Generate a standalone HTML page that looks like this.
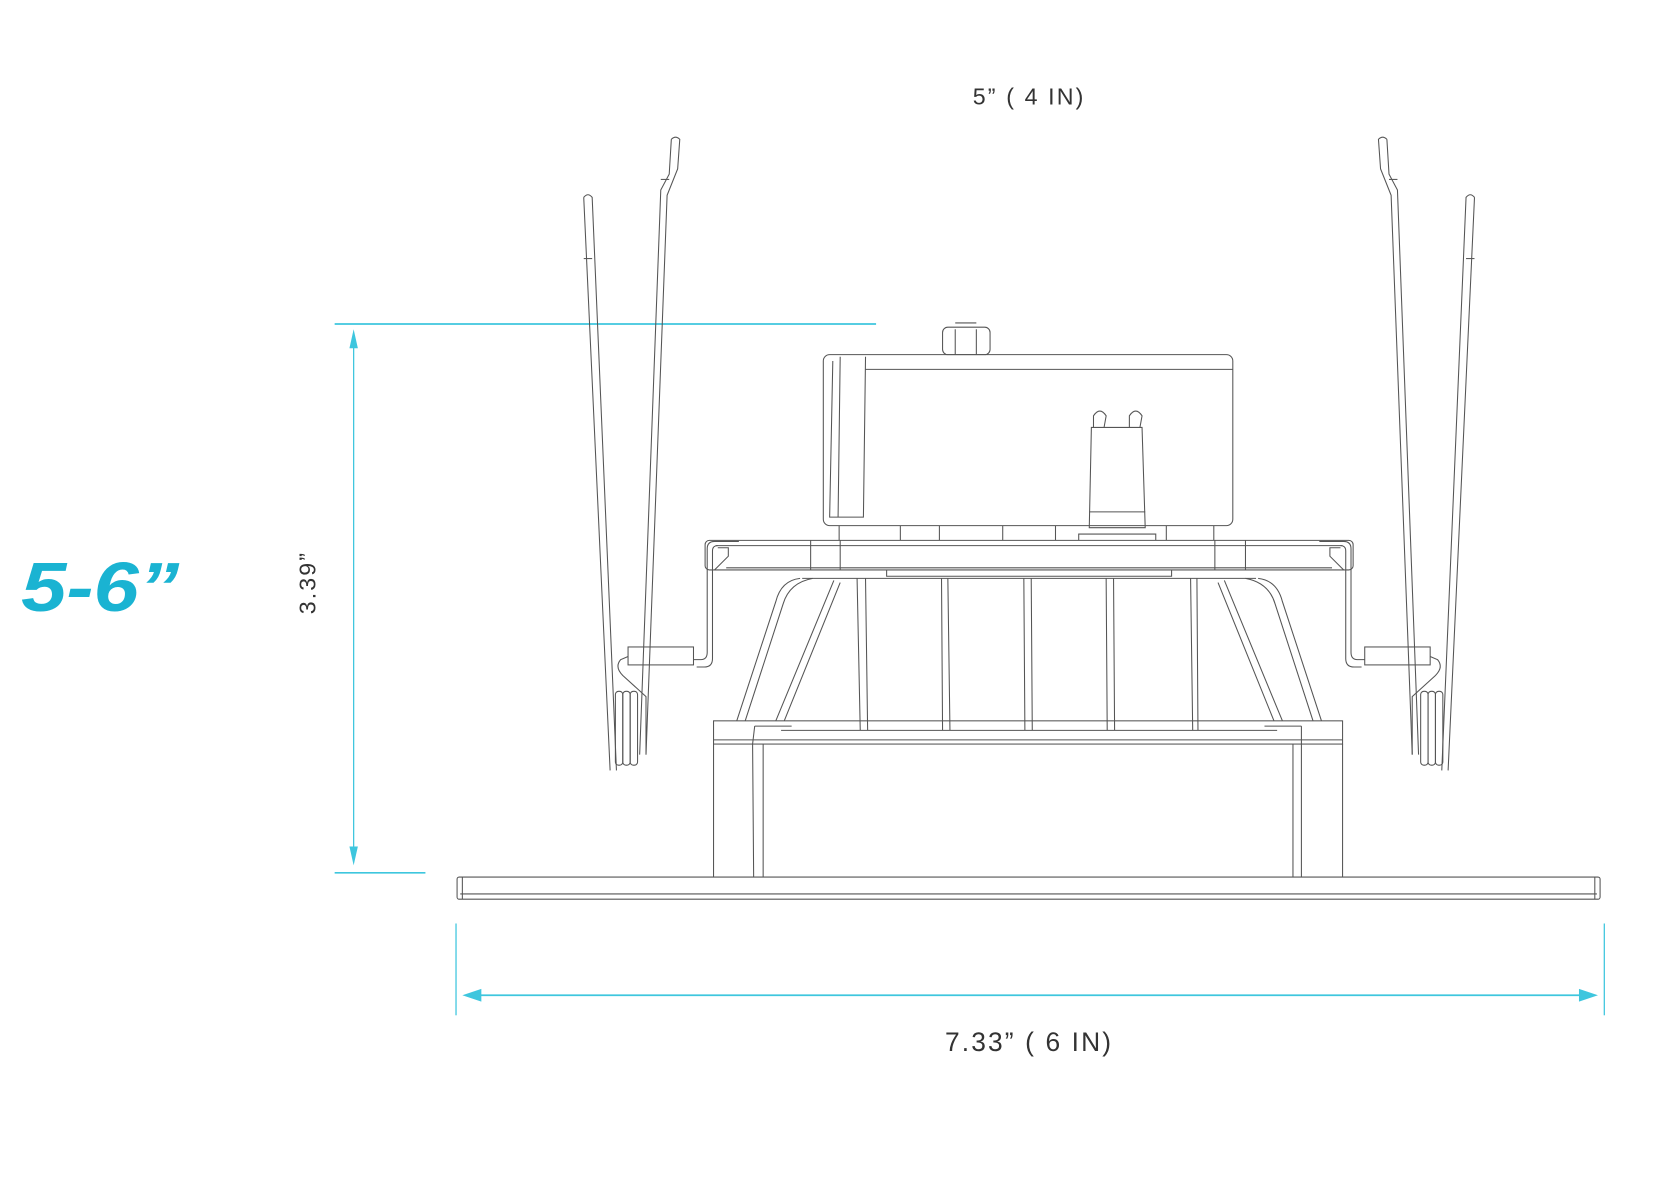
<!DOCTYPE html>
<html><head><style>html,body{margin:0;padding:0;background:#fff;}svg{display:block}</style></head>
<body>
<svg width="1654" height="1200" viewBox="0 0 1567 1137" xmlns="http://www.w3.org/2000/svg">
<rect width="1567" height="1137" fill="#fff"/>
<defs>
<g id="spring" fill="none" stroke="#555" stroke-width="1">
  <path d="M553,187 Q557,182 561,187 L584,730 M553,187 L578,730"/>
  <path d="M553,245 L561,245"/>
  <path d="M636,132 Q640,128 644,132 L642,160 L632,185 L612,715 M636,132 L634,165 L626,180 L606,715"/>
  <path d="M626,170 L634,170"/>
  <rect x="595" y="613" width="62" height="17"/>
  <path d="M595,622 L588,625 Q582,632 590,640 L612,660 L612,715"/>
  <rect x="583" y="655" width="7" height="70" rx="3"/>
  <rect x="590" y="655" width="7" height="70" rx="3"/>
  <rect x="597" y="655" width="7" height="70" rx="3"/>
  <path d="M657,625 L664,625 Q670,625 670,618 L670,520 Q670,513 677,513 L700,513"/>
  <path d="M660,632 L667,632 Q675,632 675,624 L675,522 Q675,517 680,517"/>
</g>
<g id="half" fill="none" stroke="#555" stroke-width="1">
  <path d="M758,548 Q740,550 735,570 L698,683"/>
  <path d="M770,548 Q748,552 742,572 L706,683"/>
  <path d="M790,550 L735,683 M796,552 L743,683"/>
  <path d="M677,540 L690,527 L690,519 L680,519"/>
</g>
</defs>
<g stroke="#3ec6de" fill="#3ec6de">
  <line x1="317" y1="307" x2="830" y2="307" stroke-width="1.6"/>
  <line x1="317" y1="827" x2="403" y2="827" stroke-width="1.6"/>
  <line x1="335" y1="318" x2="335" y2="812" stroke-width="1.2"/>
  <path d="M335,312 L331,330 L339,330 Z" stroke="none"/>
  <path d="M335,820 L331,802 L339,802 Z" stroke="none"/>
  <line x1="432" y1="875" x2="432" y2="962" stroke-width="1.2"/>
  <line x1="1520" y1="875" x2="1520" y2="962" stroke-width="1.2"/>
  <line x1="445" y1="943" x2="1507" y2="943" stroke-width="1.6"/>
  <path d="M438,943 L456,937 L456,949 Z" stroke="none"/>
  <path d="M1514,943 L1496,937 L1496,949 Z" stroke="none"/>
</g>
<text x="975" y="99" text-anchor="middle" font-family="Liberation Sans, sans-serif" font-size="22" fill="#333" letter-spacing="2">5” ( 4 IN)</text>
<text x="975" y="996" text-anchor="middle" font-family="Liberation Sans, sans-serif" font-size="25" fill="#333" letter-spacing="2">7.33” ( 6 IN)</text>
<text transform="translate(299,552) rotate(-90)" text-anchor="middle" font-family="Liberation Sans, sans-serif" font-size="22" fill="#333" letter-spacing="2">3.39”</text>
<text x="20" y="579" font-family="Liberation Sans, sans-serif" font-size="66" font-weight="bold" font-style="italic" fill="#1ab3d2" textLength="150" lengthAdjust="spacingAndGlyphs">5-6”</text>
<g fill="none" stroke="#555" stroke-width="1">
  <rect x="433" y="831" width="1083" height="21" rx="2"/>
  <line x1="436" y1="847" x2="1513" y2="847"/>
  <line x1="438" y1="831" x2="438" y2="852"/>
  <line x1="1511" y1="831" x2="1511" y2="852"/>
  <path d="M676,705 L676,831 M1272,705 L1272,831 M713,705 L714,831 M723,705 L723,831 M1225,705 L1225,831 M1233,705 L1233,831"/>
  <rect x="676" y="683" width="596" height="22"/>
  <line x1="676" y1="701" x2="1272" y2="701"/>
  <path d="M715,688 L750,688 M1198,688 L1233,688 M713,705 L715,688 M1233,705 L1233,688"/>
  <line x1="740" y1="692" x2="1210" y2="692"/>
  <path d="M812,548 L815,692 M820,548 L822,692"/>
  <path d="M892,548 L893,692 M898,548 L900,692"/>
  <path d="M970,548 L971,692 M977,548 L978,692"/>
  <path d="M1048,548 L1049,692 M1055,548 L1056,692"/>
  <path d="M1128,548 L1130,692 M1134,548 L1135,692"/>
  <line x1="760" y1="548" x2="1190" y2="548"/>
  <use href="#half"/>
  <use href="#half" transform="translate(1950,0) scale(-1,1)"/>
  <rect x="668" y="512" width="614" height="28" rx="4"/>
  <path d="M678,517 L1272,517 M688,538 L1262,538 M796,512 L796,540 M1151,512 L1151,540 M768,512 L768,540 M1180,512 L1180,540"/>
  <path d="M840,540 L840,546 L1110,546 L1110,540"/>
  <rect x="780" y="336" width="388" height="162" rx="6"/>
  <path d="M820,338 L818,490 L786,490 L789,342 M796,338 L794,490"/>
  <line x1="820" y1="350" x2="1168" y2="350"/>
  <path d="M795,498 L795,512 M1150,498 L1150,512 M853,498 L853,512 M890,498 L890,512 M950,498 L950,512 M1000,498 L1000,512 M1105,498 L1105,512"/>
  <rect x="893" y="310" width="45" height="26" rx="5"/>
  <path d="M905,312 L905,336 M925,312 L925,336 M905,306 L925,306"/>
  <path d="M1032,500 L1034,405 L1082,405 L1085,500 Z"/>
  <line x1="1032" y1="485" x2="1085" y2="485"/>
  <path d="M1036,405 L1036,394 Q1042,385 1048,394 L1046,405"/>
  <path d="M1070,405 L1070,394 Q1076,385 1082,394 L1080,405"/>
  <path d="M1022,512 L1022,506 L1095,506 L1095,512"/>
  <use href="#spring"/>
  <use href="#spring" transform="translate(1950,0) scale(-1,1)"/>
</g>
</svg>
</body></html>
